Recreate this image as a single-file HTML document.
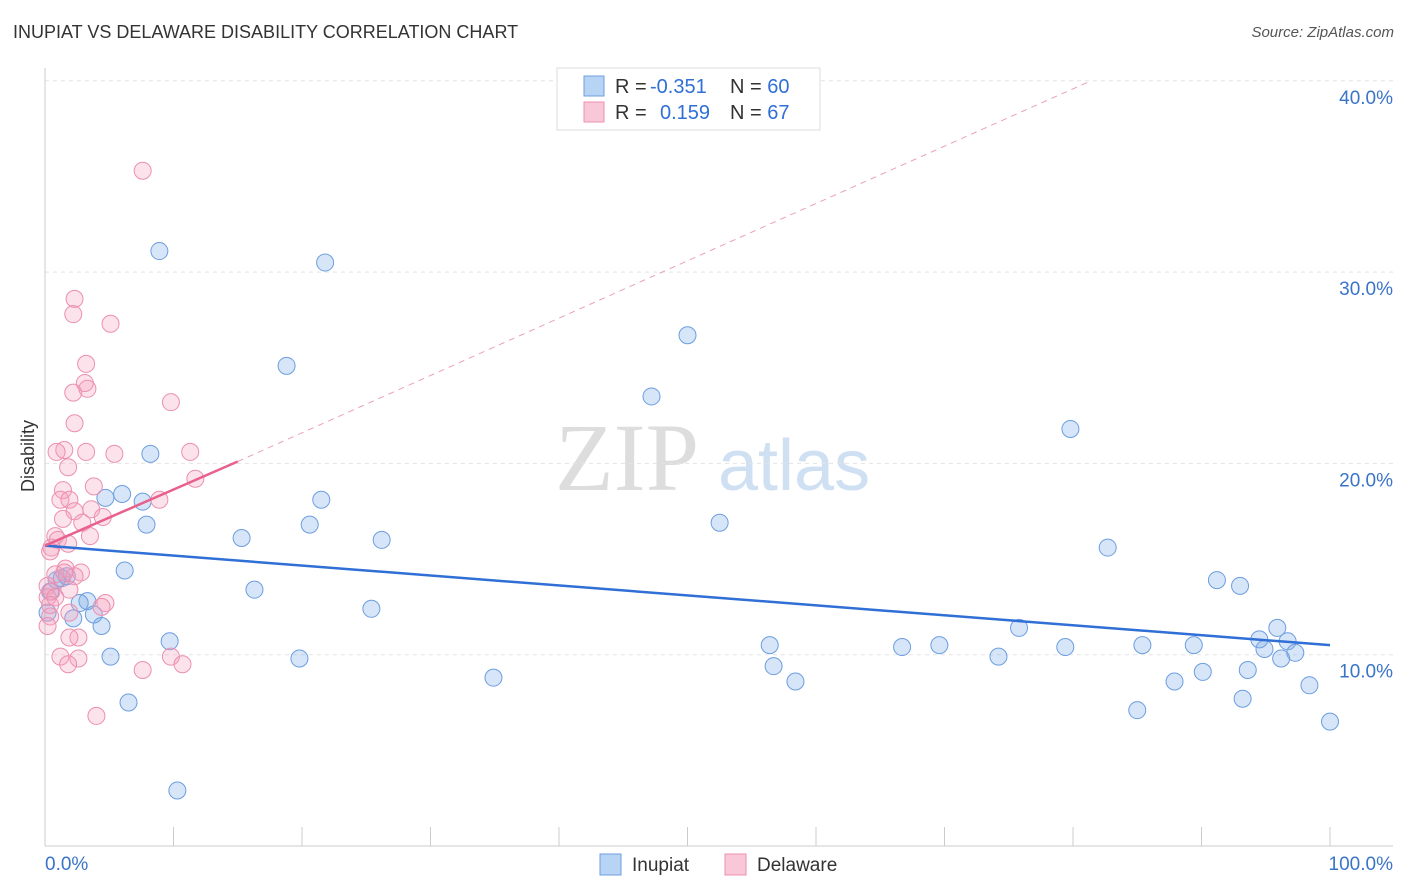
<!DOCTYPE html>
<html><head><meta charset="utf-8">
<style>
body{margin:0;background:#fff;font-family:"Liberation Sans",sans-serif;}
#wrap{position:relative;width:1406px;height:892px;overflow:hidden;}
.t{position:absolute;white-space:nowrap;}
</style></head><body>
<div id="wrap">
<div class="t" style="left:13px;top:22px;font-size:18px;color:#333;">INUPIAT VS DELAWARE DISABILITY CORRELATION CHART</div>
<div class="t" style="right:12px;top:24px;font-size:15px;color:#555;font-style:italic;">Source: ZipAtlas.com</div>
<svg id="svg" width="1406" height="892" style="position:absolute;left:0;top:0"></svg>
</div>
<script>
const xTicks=[0,10,20,30,40,50,60,70,80,90,100];
const yTicks=[10,20,30,40];
const inupiatX=[8.9,21.8,50,18.8,47.2,79.8,8.2,6,4.7,7.6,21.5,7.9,20.6,52.5,15.3,26.2,82.7,6.2,1.3,1.7,0.9,16.3,91.2,93,3.3,2.7,3.8,25.4,4.4,2.2,75.8,95.9,56.4,69.6,79.4,9.7,94.5,96.7,85.4,89.4,94.9,97.3,66.7,5.1,19.8,74.2,96.2,56.7,90.1,93.6,34.9,58.4,87.9,98.4,6.5,93.2,85,100,10.3,0.2,0.4];
const inupiatY=[31.1,30.5,26.7,25.1,23.5,21.8,20.5,18.4,18.2,18,18.1,16.8,16.8,16.9,16.1,16,15.6,14.4,14,14.1,13.9,13.4,13.9,13.6,12.8,12.7,12.1,12.4,11.5,11.9,11.4,11.4,10.5,10.5,10.4,10.7,10.8,10.7,10.5,10.5,10.3,10.1,10.4,9.9,9.8,9.9,9.8,9.4,9.1,9.2,8.8,8.6,8.6,8.4,7.5,7.7,7.1,6.5,2.9,12.2,13.3];
const delawareX=[7.6,2.3,2.2,5.1,3.2,2.2,3.3,3.1,9.8,2.3,1.5,0.9,3.2,5.4,11.3,1.8,3.8,11.7,1.4,1.2,1.9,8.9,3.6,2.3,4.5,1.4,2.9,3.5,0.8,1,1.8,0.5,0.4,1.6,2.8,2.3,0.8,1.5,0.2,0.5,1.9,0.2,0.8,4.7,4.4,1.9,0.4,2.6,1.9,1.2,2.6,1.8,7.6,9.8,10.7,4,0.4,0.2];
const delawareY=[35.3,28.6,27.8,27.3,25.2,23.7,23.9,24.2,23.2,22.1,20.7,20.6,20.6,20.5,20.6,19.8,18.8,19.2,18.6,18.1,18.1,18.1,17.6,17.5,17.2,17.1,16.9,16.2,16.2,16,15.8,15.6,15.4,14.5,14.3,14.1,14.2,14.3,13.6,13.3,13.4,13,13,12.7,12.5,12.2,12,10.9,10.9,9.9,9.8,9.5,9.2,9.9,9.5,6.8,12.6,11.5];
const blueTrend=[[0,15.7],[100,10.5]];
const pinkTrend=[[0,15.7],[15,20.1]];
const pinkDash=[[15,20.1],[81.4,40]];
const X=v=>45+v*12.85, Y=v=>846-v*19.13;
const svg=document.getElementById('svg');
const NS='http://www.w3.org/2000/svg';
function mk(t,a,p){const e=document.createElementNS(NS,t);for(const k in a)e.setAttribute(k,a[k]);(p||svg).appendChild(e);return e;}
let w=mk('text',{x:555,y:490,'font-size':96,fill:'#ddd','font-family':'Liberation Serif, serif'});w.textContent='ZIP';


let w2=mk('text',{x:718,y:490,'font-size':72,fill:'#cfe0f3','font-family':'Liberation Sans, sans-serif'});w2.textContent='atlas';


yTicks.forEach(v=>{const l=mk('line',{x1:45,x2:1393,y1:Y(v),y2:Y(v),stroke:'#e4e4e4','stroke-dasharray':'4,4'});


const t=mk('text',{x:1393,y:Y(v)+23,'text-anchor':'end','font-size':19,fill:'#3a74c9'});t.textContent=v.toFixed(1)+'%';

});
let ax=mk('line',{x1:45,x2:1393,y1:846,y2:846,stroke:'#ccc'});


let ay=mk('line',{x1:45,x2:45,y1:68,y2:846,stroke:'#ccc'});


xTicks.forEach(v=>{const l=mk('line',{x1:X(v),x2:X(v),y1:827,y2:846,stroke:'#ccc'});

});
[['0.0%',45,'start'],['100.0%',1393,'end']].forEach(d=>{const t=mk('text',{x:d[1],y:870,'text-anchor':d[2],'font-size':19,fill:'#3a74c9'});t.textContent=d[0];

});
let yt=mk('text',{x:34,y:456,'text-anchor':'middle','font-size':18,fill:'#333',transform:'rotate(-90 34 456)'});yt.textContent='Disability';


inupiatX.forEach((x,i)=>{const c=mk('circle',{cx:X(x),cy:Y(inupiatY[i]),r:8.5,fill:'rgba(120,170,230,0.3)',stroke:'#6c9ee0','stroke-width':1});

});
delawareX.forEach((x,i)=>{const c=mk('circle',{cx:X(x),cy:Y(delawareY[i]),r:8.5,fill:'rgba(245,160,190,0.3)',stroke:'#ec8fb0','stroke-width':1});

});
let bl=mk('line',{x1:X(blueTrend[0][0]),y1:Y(blueTrend[0][1]),x2:X(blueTrend[1][0]),y2:Y(blueTrend[1][1]),stroke:'#2f6fd6','stroke-width':2.5});


let pl=mk('line',{x1:X(pinkTrend[0][0]),y1:Y(pinkTrend[0][1]),x2:X(pinkTrend[1][0]),y2:Y(pinkTrend[1][1]),stroke:'#e8608c','stroke-width':2.5});


let pd=mk('line',{x1:X(pinkDash[0][0]),y1:Y(pinkDash[0][1]),x2:X(pinkDash[1][0]),y2:Y(pinkDash[1][1]),stroke:'#eaa0b8','stroke-width':1,'stroke-dasharray':'6,5'});


let lg=mk('rect',{x:557,y:68,width:263,height:62,fill:'#fff',stroke:'#ddd'});


[[86,'#b8d4f5','#6c9ee0','-0.351','60'],[112,'#f9c8d8','#ec8fb0','0.159','67']].forEach((r,i)=>{
 const s=mk('rect',{x:584,y:r[0]-10,width:20,height:20,fill:r[1],stroke:r[2]});
 
 
 const t=mk('text',{x:615,y:r[0]+7,'font-size':20,fill:'#333'});
 t.innerHTML='R = <tspan fill="#2f6fd6" x="'+(i?660:650)+'">'+r[3]+'</tspan><tspan x="730" fill="#333">N = </tspan><tspan fill="#2f6fd6">'+r[4]+'</tspan>';
 
 
});
[[600,'#b8d4f5','#6c9ee0','Inupiat'],[725,'#f9c8d8','#ec8fb0','Delaware']].forEach(r=>{
 const s=mk('rect',{x:r[0],y:854,width:21,height:21,fill:r[1],stroke:r[2]});
 
 
 const t=mk('text',{x:r[0]+32,y:871,'font-size':19,fill:'#333'});t.textContent=r[3];
 
 
});
</script>
</body></html>
